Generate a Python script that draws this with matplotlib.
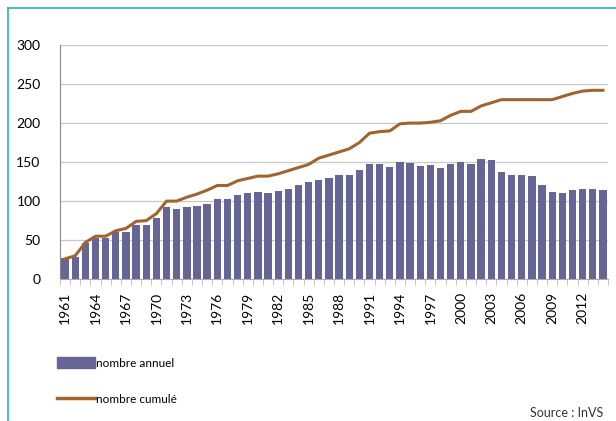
import matplotlib
matplotlib.use("Agg")
import matplotlib.pyplot as plt
from matplotlib.lines import Line2D
from matplotlib.patches import Patch

years = list(range(1961, 2015))
annuel = [27, 28, 46, 53, 53, 60, 60, 70, 70, 78,
          92, 90, 92, 94, 96, 103, 103, 108, 110, 112,
          111, 113, 116, 120, 124, 127, 130, 133, 133, 140,
          148, 147, 144, 150, 149, 145, 146, 142, 148, 150,
          148, 154, 153, 137, 133, 133, 132, 120, 112, 111,
          114, 116, 116, 114]
cumule = [26, 30, 47, 55, 55, 62, 65, 74, 75, 84,
          100, 100, 105, 109, 114, 120, 120, 126, 129, 132,
          132, 135, 139, 143, 147, 155, 159, 163, 167, 175,
          187, 189, 190, 199, 200, 200, 201, 203, 210, 215,
          215, 222, 226, 230, 230, 230, 230, 230, 230, 234,
          238, 241, 242, 242]
tick_years = list(range(1961, 2015, 3))

bar_color = "#656597"
line_color = "#A0652F"
teal = "#22B8A8"

plt.rcParams['font.family'] = ['Lato', 'DejaVu Sans']

fig = plt.figure(figsize=(6.16, 4.21), dpi=100)
ax = fig.add_axes([0.0974, 0.337, 0.8896, 0.556])

x = list(range(len(years)))
ax.bar(x, annuel, width=0.72, color=bar_color, zorder=2)
ax.plot(x, cumule, color=line_color, linewidth=2.2, zorder=3)

ax.set_xlim(-0.5, len(years) - 0.5)
ax.set_ylim(0, 300)
ax.set_yticks(range(0, 301, 50))
ax.yaxis.grid(True, color="#C8C8C8", linewidth=0.9, zorder=0)
ax.set_axisbelow(True)

# labels every 3 years, small tick marks between every bar
ax.set_xticks([years.index(y) for y in tick_years])
ax.set_xticklabels([str(y) for y in tick_years], rotation=90, fontsize=10)
ax.set_xticks([i - 0.5 for i in range(len(years) + 1)], minor=True)
ax.tick_params(axis='x', which='major', length=0, pad=9)
ax.tick_params(axis='x', which='minor', length=4, color="#BBBBBB")
ax.tick_params(axis='y', length=0, pad=14, labelsize=10)

for s in ['top', 'right']:
    ax.spines[s].set_visible(False)
ax.spines['left'].set_color("#888888")
ax.spines['bottom'].set_color("#AAAAAA")

h_bar = Patch(color=bar_color)
h_line = Line2D([0], [0], color=line_color, linewidth=2.5)
fig.legend([h_bar], ['nombre annuel'], loc='center left',
           bbox_to_anchor=(0.075, 0.138), frameon=False, fontsize=8.5,
           handlelength=3.2, handleheight=1.1, handletextpad=0.1)
fig.legend([h_line], ['nombre cumulé'], loc='center left',
           bbox_to_anchor=(0.075, 0.052), frameon=False, fontsize=8.5,
           handlelength=3.2, handletextpad=0.1)

fig.text(0.979, 0.019, "Source : InVS", ha='right', va='center', fontsize=9, color="#333333")

fig.add_artist(Line2D([0.013, 0.013], [0.0, 0.981], color=teal, linewidth=1.2))
fig.add_artist(Line2D([0.013, 1.0], [0.981, 0.981], color=teal, linewidth=1.2))

fig.savefig("out.png", dpi=100)
